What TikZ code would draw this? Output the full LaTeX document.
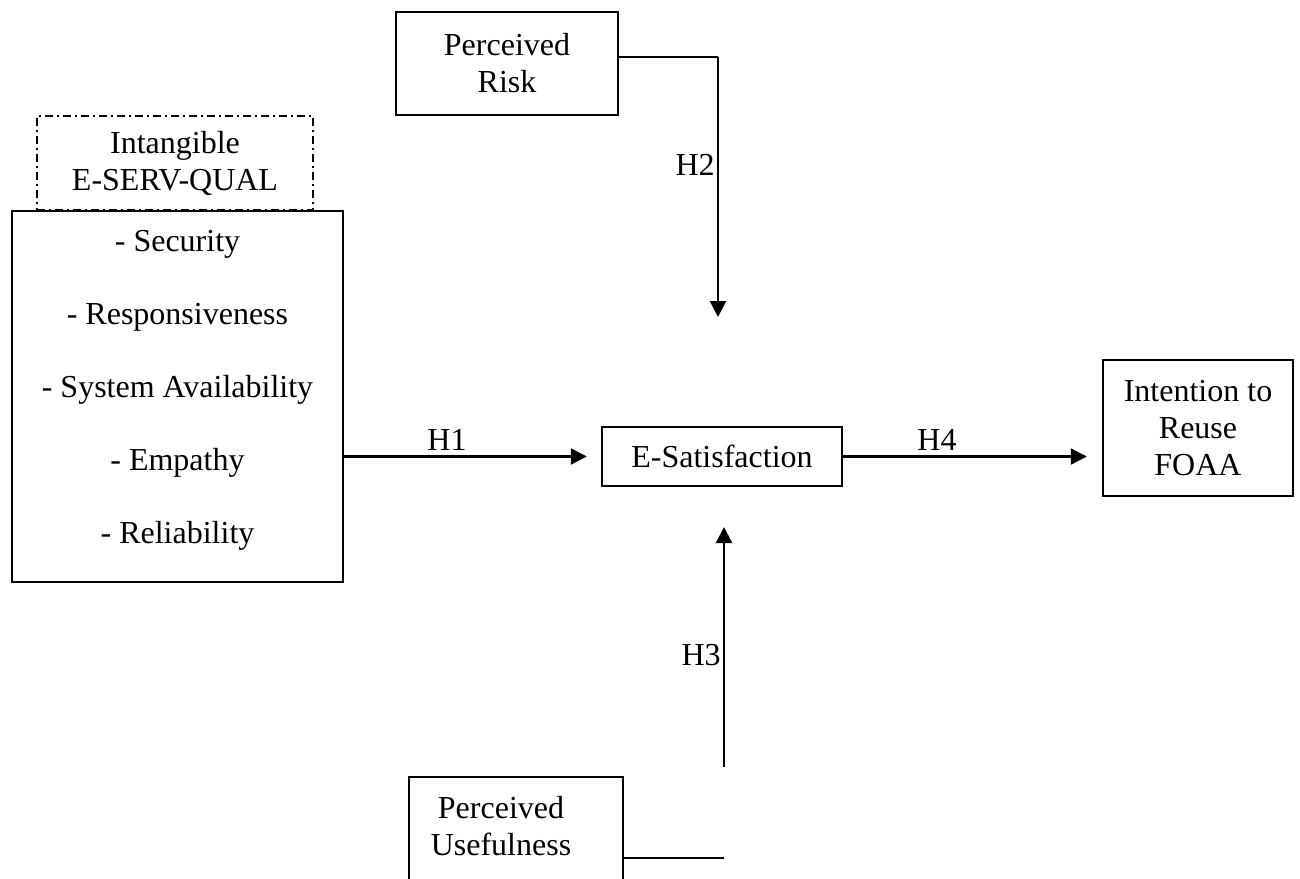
\documentclass[tikz,border=0pt]{standalone}
\usepackage{fontspec}
\setmainfont{Liberation Serif}
\usetikzlibrary{arrows.meta}
\tikzset{
  box/.style={draw,line width=1.2pt,rectangle,inner sep=0pt,align=center},
  dashbox/.style={draw,line width=1pt,dash pattern=on 4pt off 2pt on 1pt off 2pt,rectangle,inner sep=0pt,align=center},
  arr/.style={line width=1.1pt,-{Triangle[length=8pt,width=8pt]}},
  thinline/.style={line width=0.6pt},
  hlab/.style={inner sep=0.5pt},
}

\begin{document}
\begin{tikzpicture}[x=0.5pt,y=-0.5pt,font=\fontsize{16}{18.5}\selectfont]
        \useasboundingbox (0,0) rectangle (1300,878);
        \clip (0,0) rectangle (1300,878);
        \node[box,minimum width=111pt,minimum height=51.5pt] (risk) at (507,63.5) {Perceived\\Risk};
        \node[dashbox,minimum width=138pt,minimum height=47pt] (intang) at (175,163) {Intangible\\E-SERV-QUAL};
        \node[box,minimum width=165.5pt,minimum height=185.5pt] (dims) at (177.5,396.5) {};
        \node[align=center,inner sep=0pt,font=\fontsize{16}{36.5}\selectfont] (dimlist) at (177.5,390)
            {- Security\\- Responsiveness\\- System Availability\\- Empathy\\- Reliability};
        \node[box,minimum width=120pt,minimum height=29.5pt] (esat) at (722,456.5) {E-Satisfaction};
        \node[box,minimum width=95pt,minimum height=68pt] (reuse) at (1198,428) {Intention to\\Reuse\\FOAA};
        \node[box,minimum width=107pt,minimum height=56pt] (useful) at (516,833) {};
        \node[align=center,inner sep=0pt] (usefultxt) at (501,826) {Perceived\\Usefulness};

        \coordinate (rj) at (718,57);
        \coordinate (h2end) at (718,317);
        \coordinate (uj) at (724,858);
        \coordinate (h3start) at (724,767);
        \coordinate (h3end) at (724,527);

        \draw[thinline] (risk.east |- rj) -- (rj);
        \draw[arr] (rj) -- (h2end);
        \draw[arr,shorten >=7pt] (dims.east |- esat.west) -- (esat.west);
        \draw[arr,shorten >=7.5pt] (esat.east) -- (esat.east -| reuse.west);
        \draw[arr] (h3start) -- (h3end);
        \draw[thinline] (useful.east |- uj) -- (uj);

        \node[hlab,anchor=east] (h2) at (716,165) {H2};
        \node[hlab] (h1) at (447,440) {H1};
        \node[hlab] (h4) at (937,440) {H4};
        \node[hlab,anchor=east] (h3) at (722,655) {H3};
    \end{tikzpicture}
\end{document}
